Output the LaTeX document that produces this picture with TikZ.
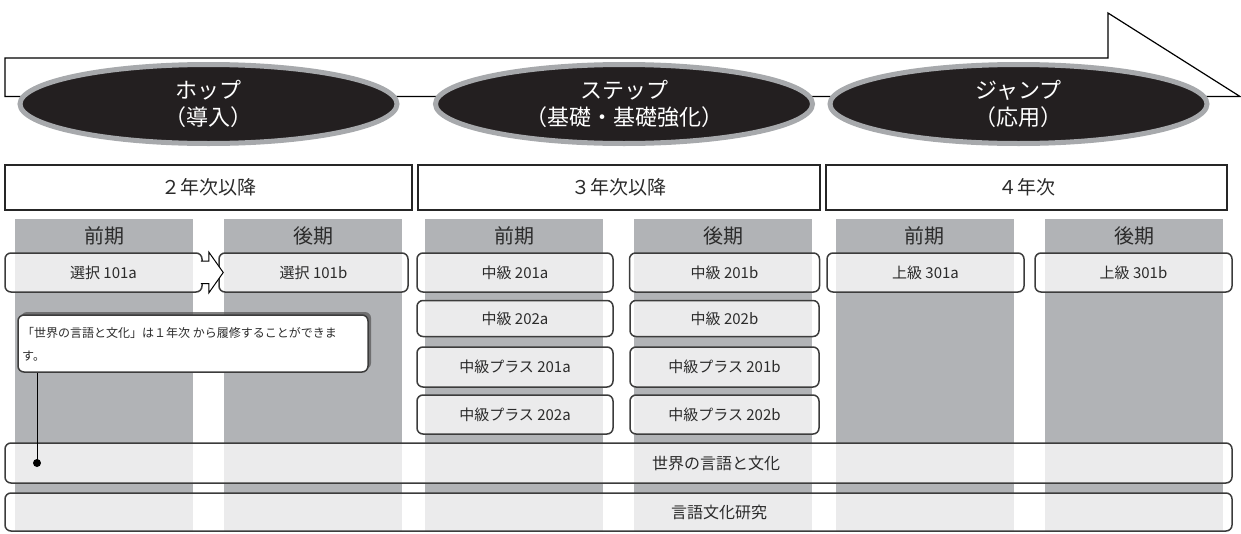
\documentclass[tikz,border=0pt]{standalone}
\usepackage{fontspec}
\setmainfont{Noto Sans CJK JP}
\usetikzlibrary{shapes.geometric}
\definecolor{txt}{HTML}{2B2B2B}
\definecolor{colgray}{HTML}{B1B3B6}
\definecolor{boxline}{HTML}{3C3C3C}
\definecolor{ellfill}{HTML}{231F20}
\definecolor{ellring}{HTML}{A7A9AC}
\tikzset{
  colbar/.style={fill=colgray, draw=none, minimum width=178pt, minimum height=312pt, inner sep=0pt},
  termlabel/.style={text=txt, font=\fontsize{20}{22}\selectfont, inner sep=0pt},
  yearbox/.style={draw=black!85, line width=1.2pt, fill=white, minimum height=45pt, inner sep=0pt, text=txt, font=\fontsize{19}{21}\selectfont},
  course/.style={draw=boxline, line width=1.5pt, rounded corners=6pt, fill=white, fill opacity=0.75, text opacity=1, inner sep=0pt, text=txt, font=\fontsize{15}{17}\selectfont},
  phase/.style={ellipse, draw=ellring, line width=5pt, fill=ellfill, minimum width=377pt, minimum height=79pt, inner sep=0pt, text=white, align=center, font=\fontsize{22}{27}\selectfont},
}
\begin{document}
\begin{tikzpicture}[x=1pt,y=-1pt]
\useasboundingbox (0,0) rectangle (1241,533);
% gray term columns
\node[colbar] (c1) at (104,375) {};
\node[colbar] (c2) at (313,375) {};
\node[colbar] (c3) at (514,375) {};
\node[colbar] (c4) at (723,375) {};
\node[colbar] (c5) at (924.5,375) {};
\node[colbar] (c6) at (1134,375) {};
% big arrow
\draw[line width=1.2pt, fill=white] (5,58) -- (1108,58) -- (1108,13) -- (1240,96.5) -- (5,96.5) -- cycle;
% phases
\node[phase] (hop) at (208.5,104) {ホップ\\（導入）};
\node[phase] (step) at (624,104) {ステップ\\（基礎・基礎強化）};
\node[phase] (jump) at (1018.5,104) {ジャンプ\\（応用）};
% year boxes
\node[yearbox, minimum width=407pt] (y2) at (208.5,187.5) {２年次以降};
\node[yearbox, minimum width=402pt] (y3) at (619,187.5) {３年次以降};
\node[yearbox, minimum width=401pt] (y4) at (1026.5,187.5) {４年次};
% term labels
\node[termlabel] (t1) at (104,236) {前期};
\node[termlabel] (t2) at (313,236) {後期};
\node[termlabel] (t3) at (514,236) {前期};
\node[termlabel] (t4) at (723,236) {後期};
\node[termlabel] (t5) at (924.5,236) {前期};
\node[termlabel] (t6) at (1134,236) {後期};
% row 1
\node[course, minimum width=197pt, minimum height=39pt] (s1a) at (103.5,272.5) {選択 101a};
\node[course, minimum width=189pt, minimum height=39pt] (s1b) at (313.5,272.5) {選択 101b};
\node[course, minimum width=196pt, minimum height=39pt] (m1a) at (515,272.5) {中級 201a};
\node[course, minimum width=190pt, minimum height=39pt] (m1b) at (724.5,272.5) {中級 201b};
\node[course, minimum width=197pt, minimum height=39pt] (u1a) at (925.5,272.5) {上級 301a};
\node[course, minimum width=197pt, minimum height=39pt] (u1b) at (1133.5,272.5) {上級 301b};
% block arrow between 101a and 101b
\draw[line width=1pt, fill=white, line join=miter]
  ([xshift=-2pt,yshift=-11pt]s1a.east) -- ([xshift=6pt,yshift=-11pt]s1a.east)
  -- ([xshift=6pt,yshift=-20.5pt]s1a.east) -- ([xshift=5pt]s1b.west)
  -- ([xshift=6pt,yshift=20.5pt]s1a.east) -- ([xshift=6pt,yshift=11.5pt]s1a.east)
  -- ([xshift=-2pt,yshift=11.5pt]s1a.east);
% rows 2-4
\node[course, minimum width=196pt, minimum height=36pt] (m2a) at (515,318.5) {中級 202a};
\node[course, minimum width=189pt, minimum height=36pt] (m2b) at (724.5,318.5) {中級 202b};
\node[course, minimum width=196pt, minimum height=40pt] (p1a) at (515,367) {中級プラス 201a};
\node[course, minimum width=189pt, minimum height=40pt] (p1b) at (724.5,367) {中級プラス 201b};
\node[course, minimum width=196pt, minimum height=39pt] (p2a) at (515,414.5) {中級プラス 202a};
\node[course, minimum width=189pt, minimum height=39pt] (p2b) at (724.5,414.5) {中級プラス 202b};
% long bars
\node[course, minimum width=1227pt, minimum height=40pt] (world) at (618.5,463) {};
\node[text=txt, font=\fontsize{16}{18}\selectfont, inner sep=0pt] (worldt) at (716,463) {世界の言語と文化};
\node[course, minimum width=1227pt, minimum height=38pt] (study) at (618.5,512) {};
\node[text=txt, font=\fontsize{16}{18}\selectfont, inner sep=0pt] (studyt) at (719,512) {言語文化研究};
% note with shadow
\fill[black!65, opacity=0.75, rounded corners=6pt] (21,312) rectangle (371,369);
\node[draw=boxline, line width=1.5pt, rounded corners=6pt, fill=white, minimum width=350pt, minimum height=57pt, inner sep=0pt] (note) at (193,343.5) {};
\node[anchor=north west, text=txt, font=\fontsize{12}{23}\selectfont, align=left, inner sep=0pt] (notet) at (22,327) {「世界の言語と文化」は１年次 から履修することができま\\す。};
% pointer
\node[circle, fill=black, inner sep=0pt, minimum size=8pt] (dot) at (37,463) {};
\draw[line width=0.9pt] (dot.center) -- (dot.center |- note.south);
\end{tikzpicture}
\end{document}
